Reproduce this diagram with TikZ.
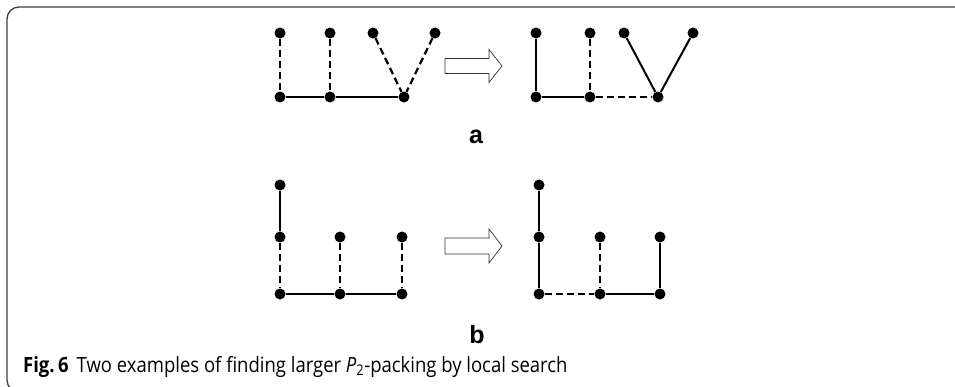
\documentclass[tikz,border=0pt]{standalone}
\usepackage{fontspec}
\setmainfont{Liberation Sans}
\newfontfamily\capfont[FakeStretch=0.88]{Open Sans}
\usetikzlibrary{positioning}

\tikzset{
    dot/.style = {circle, fill=black, inner sep=0pt, minimum size=11pt},
    edge/.style = {line width=2pt},
    dashedge/.style = {line width=2.2pt, dash pattern=on 7pt off 4pt},
    blockarrow/.style = {draw=black!80, line width=0.7pt, fill=white},
    panel/.style = {font=\bfseries\fontsize{25}{28}\selectfont, inner sep=0pt}
}

\begin{document}
\begin{tikzpicture}[x=1pt, y=-1pt]
    \useasboundingbox (0,0) rectangle (955,386);
    \clip (0,0) rectangle (955,386);
    % frame
    \draw[black!75, line width=1.3pt, rounded corners=12pt]
        (970,7) -- (7,7) -- (7,392) -- (40,392);

    % (a) before
    \node[dot] (a1t1) at (280,33) {};
    \node[dot] (a1t2) at (330,33) {};
    \node[dot] (a1t3) at (373,33) {};
    \node[dot] (a1t4) at (435,33) {};
    \node[dot] (a1b1) at (280,97) {};
    \node[dot] (a1b2) at (330,97) {};
    \node[dot] (a1b3) at (404,97) {};
    \draw[dashedge] (a1t1) -- (a1b1);
    \draw[dashedge] (a1t2) -- (a1b2);
    \draw[dashedge] (a1t3) -- (a1b3);
    \draw[dashedge] (a1t4) -- (a1b3);
    \draw[edge] (a1b1) -- (a1b2) -- (a1b3);

    % (a) after
    \node[dot] (a2t1) at (536,33) {};
    \node[dot] (a2t2) at (590,33) {};
    \node[dot] (a2t3) at (624,33) {};
    \node[dot] (a2t4) at (693,33) {};
    \node[dot] (a2b1) at (536,97) {};
    \node[dot] (a2b2) at (590,97) {};
    \node[dot] (a2b3) at (658,97) {};
    \draw[edge] (a2t1) -- (a2b1);
    \draw[dashedge] (a2t2) -- (a2b2);
    \draw[edge] (a2t3) -- (a2b3) -- (a2t4);
    \draw[edge] (a2b1) -- (a2b2);
    \draw[dashedge] (a2b2) -- (a2b3);

    % arrow a
    \coordinate (arra) at (445,66);
    \draw[blockarrow] (arra) ++(0,-7.5) -- ++(44,0) -- ++(0,-9) -- ++(13,16.5)
        -- ++(-13,16.5) -- ++(0,-9) -- ++(-44,0) -- cycle;
    \node[panel] (laba) at (476,137) {a};

    % (b) before
    \node[dot] (b1t)  at (280,185) {};
    \node[dot] (b1m1) at (280,237) {};
    \node[dot] (b1m2) at (340,237) {};
    \node[dot] (b1m3) at (402,237) {};
    \node[dot] (b1b1) at (280,294) {};
    \node[dot] (b1b2) at (340,294) {};
    \node[dot] (b1b3) at (402,294) {};
    \draw[edge] (b1t) -- (b1m1);
    \draw[dashedge] (b1m1) -- (b1b1);
    \draw[dashedge] (b1m2) -- (b1b2);
    \draw[dashedge] (b1m3) -- (b1b3);
    \draw[edge] (b1b1) -- (b1b2) -- (b1b3);

    % (b) after
    \node[dot] (b2t)  at (539,185) {};
    \node[dot] (b2m1) at (539,237) {};
    \node[dot] (b2m2) at (600,237) {};
    \node[dot] (b2m3) at (660,237) {};
    \node[dot] (b2b1) at (539,294) {};
    \node[dot] (b2b2) at (600,294) {};
    \node[dot] (b2b3) at (660,294) {};
    \draw[edge] (b2t) -- (b2m1) -- (b2b1);
    \draw[dashedge] (b2m2) -- (b2b2);
    \draw[edge] (b2m3) -- (b2b3);
    \draw[dashedge] (b2b1) -- (b2b2);
    \draw[edge] (b2b2) -- (b2b3);

    % arrow b
    \coordinate (arrb) at (445,246);
    \draw[blockarrow] (arrb) ++(0,-8) -- ++(44,0) -- ++(0,-9) -- ++(13,17)
        -- ++(-13,17) -- ++(0,-9) -- ++(-44,0) -- cycle;
    \node[panel, anchor=base] (labb) at (477,343) {b};

    % caption
    \node[anchor=base west, inner sep=0pt, font=\capfont\fontsize{21}{24}\selectfont]
        (cap) at (23,372) {\textbf{Fig.\,6}\hspace{8pt}Two examples of finding larger \textit{P}\textsubscript{2}-packing by local search};
\end{tikzpicture}
\end{document}
